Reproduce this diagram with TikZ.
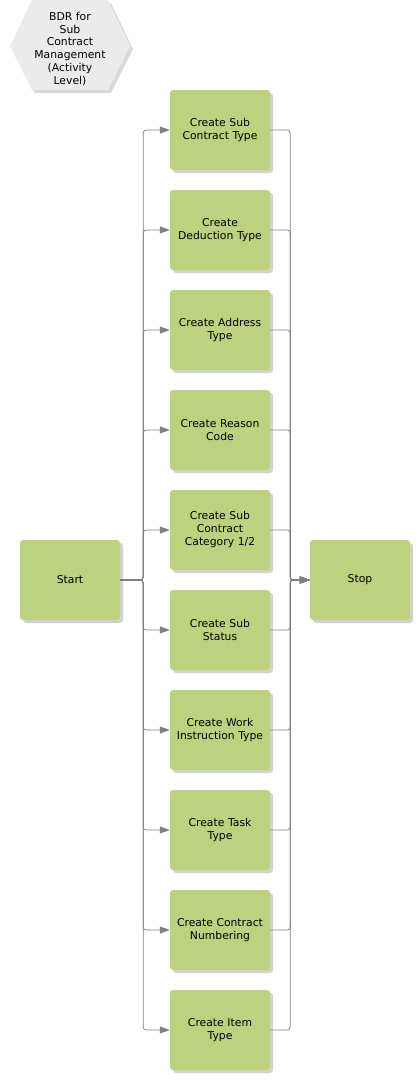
\documentclass[tikz,border=0pt]{standalone}
\usepackage{fontspec}
\setmainfont{DejaVu Sans}
\usetikzlibrary{arrows.meta,shadows,shapes.geometric}
\definecolor{boxgreen}{HTML}{BDD27E}
\definecolor{hexgray}{HTML}{EBEBEB}
\definecolor{linegray}{HTML}{808080}
\tikzset{
  task/.style={draw=none, fill=boxgreen, rounded corners=3pt, minimum width=100pt, minimum height=80pt,
    text width=98pt, align=center, font=\fontsize{10.8}{13}\selectfont, inner sep=0pt,
    drop shadow={shadow xshift=3pt, shadow yshift=-3pt, fill=black, opacity=0.18}},
  conn/.style={draw=linegray, line width=0.75pt, rounded corners=3pt, -{Triangle[length=10pt,width=7pt]}},
  title/.style={fill=hexgray, draw=none,
    drop shadow={shadow xshift=3pt, shadow yshift=-3pt, fill=black, opacity=0.15}}
}
\begin{document}
\begin{tikzpicture}[x=1pt,y=-1pt]
\useasboundingbox (0,0) rectangle (420,1080);
% title hexagon
\filldraw[title] (10,46) -- (32,0) -- (108,0) -- (130,46) -- (108,90) -- (32,90) -- cycle;
\node[font=\fontsize{10.8}{12.8}\selectfont, align=center] (title) at (70,49) {BDR for\\Sub\\Contract\\Management\\(Activity\\Level)};
% nodes
\node[task] (start) at (70,580) {Start};
\node[task] (stop) at (360,580) {Stop};
\node[task] (b1) at (220,130) {Create Sub\\Contract Type};
\node[task] (b2) at (220,230) {Create\\Deduction Type};
\node[task] (b3) at (220,330) {Create Address\\Type};
\node[task] (b4) at (220,430) {Create Reason\\Code};
\node[task] (b5) at (220,530) {Create Sub\\Contract\\Category 1/2};
\node[task] (b6) at (220,630) {Create Sub\\Status};
\node[task] (b7) at (220,730) {Create Work\\Instruction Type};
\node[task] (b8) at (220,830) {Create Task\\Type};
\node[task] (b9) at (220,930) {Create Contract\\Numbering};
\node[task] (b10) at (220,1030) {Create Item\\Type};
% connectors
\foreach \b in {b1,b2,b3,b4,b5,b6,b7,b8,b9,b10}{
  \draw[conn] (start.east) -- ++(23,0) |- (\b.west);
  \draw[conn] (\b.east) -- ++(20,0) |- (stop.west);
}
\end{tikzpicture}
\end{document}
